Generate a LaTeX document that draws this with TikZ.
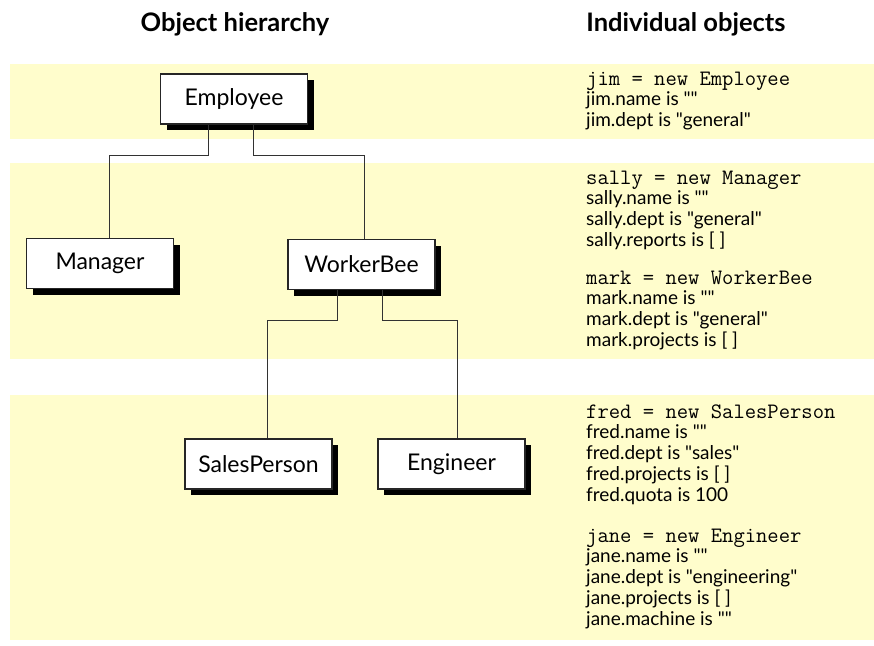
\documentclass[tikz,border=0pt]{standalone}
\usepackage{fontspec}
\setmainfont{Lato}[Ligatures=TeXOff]
\usetikzlibrary{shadows}
\definecolor{bandyellow}{RGB}{255,253,204}
\definecolor{linegray}{RGB}{50,50,50}
\newcommand{\objblock}[4]{%
  \node[objtext,font=\fontsize{22}{22}\selectfont\ttfamily] (#1-0) at (586,#2) {#3};
  \foreach \ln [count=\i] in {#4} {
    \node[objtext] (#1-\i) at (586,#2+20.8*\i) {\ln};
  }%
}
\begin{document}
\begin{tikzpicture}[x=1pt,y=-1pt,
  band/.style={fill=bandyellow,draw=none},
  classbox/.style={draw=black!85,line width=1.1pt,fill=white,
    minimum width=147pt,minimum height=50pt,inner sep=0pt,
    font=\fontsize{23}{26}\selectfont,
    drop shadow={shadow xshift=6pt,shadow yshift=-6pt,fill=black,opacity=1}},
  conn/.style={draw=linegray,line width=1pt},
  title/.style={font=\fontsize{25.5}{28}\selectfont\bfseries,anchor=base},
  objtext/.style={font=\fontsize{19}{21}\selectfont,anchor=base west,inner sep=0pt}
]
\useasboundingbox (0,0) rectangle (874,645);
% bands
\fill[band] (10,64) rectangle (874,139);
\fill[band] (10,163) rectangle (874,359);
\fill[band] (10,395) rectangle (874,640);
% titles
\node[title] (t1) at (235,31) {Object hierarchy};
\node[title] (t2) at (686,31) {Individual objects};
% class boxes
\node[classbox] (emp) at (234,99) {Employee};
\node[classbox] (mgr) at (100,263.5) {Manager};
\node[classbox] (wb)  at (361.5,264.5) {WorkerBee};
\node[classbox] (sp)  at (258.5,464) {SalesPerson};
\node[classbox] (eng) at (451.5,464) {Engineer};
% connectors
\draw[conn] ([xshift=-26pt]emp.south) -- ++(0,31) -| ([xshift=9pt]mgr.north);
\draw[conn] ([xshift=19pt]emp.south) -- ++(0,31) -| ([xshift=2.5pt]wb.north);
\draw[conn] ([xshift=-24.5pt]wb.south) -- ++(0,30) -| ([xshift=8.5pt]sp.north);
\draw[conn] ([xshift=20.5pt]wb.south) -- ++(0,30) -| ([xshift=5.5pt]eng.north);
% object texts
\objblock{jim}{85}{jim = new Employee}{jim.name is "",jim.dept is "general"}
\objblock{sally}{184}{sally = new Manager}{sally.name is "",sally.dept is "general",sally.reports is [ ]}
\objblock{mark}{284}{mark = new WorkerBee}{mark.name is "",mark.dept is "general",mark.projects is [ ]}
\objblock{fred}{418}{fred = new SalesPerson}{fred.name is "",fred.dept is "sales",fred.projects is [ ],fred.quota is 100}
\objblock{jane}{542}{jane = new Engineer}{jane.name is "",jane.dept is "engineering",jane.projects is [ ],jane.machine is ""}
\end{tikzpicture}
\end{document}
